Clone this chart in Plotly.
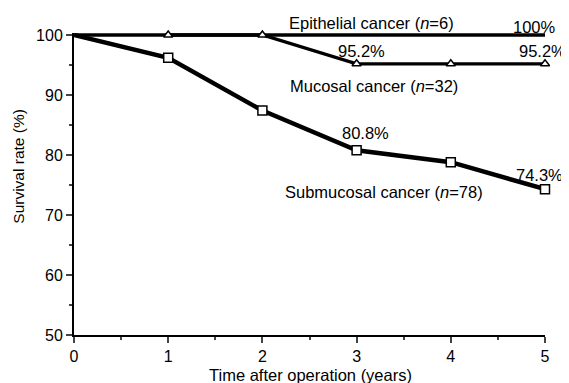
import plotly.graph_objects as go

years = [0, 1, 2, 3, 4, 5]
epithelial = [100, 100, 100, 100, 100, 100]
mucosal = [100, 100, 100, 95.2, 95.2, 95.2]
submucosal = [100, 96.2, 87.4, 80.8, 78.8, 74.3]

X_RANGE = [0, 5]
Y_RANGE = [50, 100.333]

labels = [
    # (x, y in data units, text, xanchor)
    (3.16, 102.0, "Epithelial cancer (<i>n</i>=6)", "center"),
    (5.14, 101.4, "100%", "right"),
    (3.05, 97.3, "95.2%", "center"),
    (5.24, 97.3, "95.2%", "right"),
    (3.19, 91.5, "Mucosal cancer (<i>n</i>=32)", "center"),
    (3.09, 83.7, "80.8%", "center"),
    (5.21, 76.7, "74.3%", "right"),
    (3.29, 73.8, "Submucosal cancer (<i>n</i>=78)", "center"),
]

font = "Liberation Sans, Arial, sans-serif"
FS = 16.5
fig = go.Figure()
fig.add_trace(go.Scatter(x=years, y=epithelial, mode="lines",
                         line=dict(color="black", width=3.5), cliponaxis=False))
fig.add_trace(go.Scatter(x=years, y=submucosal, mode="lines",
                         line=dict(color="black", width=4.5), cliponaxis=False))
fig.add_trace(go.Scatter(x=years[1:], y=mucosal[1:], mode="lines+markers",
                         line=dict(color="black", width=3.3),
                         marker=dict(symbol="triangle-up", size=8, color="white",
                                     line=dict(color="black", width=1.5)),
                         cliponaxis=False))
fig.add_trace(go.Scatter(x=years[1:], y=submucosal[1:], mode="markers",
                         marker=dict(symbol="square", size=9, color="white",
                                     line=dict(color="black", width=1.5)),
                         cliponaxis=False))

def px(x):
    return (x - X_RANGE[0]) / (X_RANGE[1] - X_RANGE[0])

def py(y):
    return (y - Y_RANGE[0]) / (Y_RANGE[1] - Y_RANGE[0])

for x, y, t, xa in labels:
    fig.add_annotation(x=px(x), y=py(y), text=t, xref="paper", yref="paper",
                       showarrow=False, xanchor=xa, yanchor="middle",
                       font=dict(family=font, size=FS, color="black"))

fig.add_annotation(x=0.503, y=py(43.33), text="Time after operation (years)",
                   xref="paper", yref="paper", showarrow=False,
                   xanchor="center", yanchor="middle",
                   font=dict(family=font, size=FS, color="black"))
fig.add_annotation(x=-0.117, y=py(78.2), text="Survival rate (%)", textangle=-90,
                   xref="paper", yref="paper", showarrow=False,
                   xanchor="center", yanchor="middle",
                   font=dict(family=font, size=15.5, color="black"))

fig.update_layout(
    width=561, height=375,
    margin=dict(l=66, r=24, t=25, b=48),
    plot_bgcolor="white", paper_bgcolor="white",
    showlegend=False,
    font=dict(family=font, size=16, color="black"),
)
fig.update_xaxes(range=X_RANGE, showgrid=False, zeroline=False,
                 showline=True, linecolor="black", linewidth=2,
                 ticks="outside", tickwidth=1.5, ticklen=6, dtick=1,
                 tickfont=dict(size=16),
                 minor=dict(ticks="outside", ticklen=3, tickwidth=1.5, dtick=0.5))
fig.update_yaxes(range=Y_RANGE, showgrid=False, zeroline=False,
                 showline=True, linecolor="black", linewidth=2,
                 ticks="outside", tickwidth=1.5, ticklen=6, tick0=50, dtick=10,
                 tickfont=dict(size=16),
                 minor=dict(ticks="outside", ticklen=3, tickwidth=1.5, tick0=50, dtick=5))

fig.write_html("out.html")
